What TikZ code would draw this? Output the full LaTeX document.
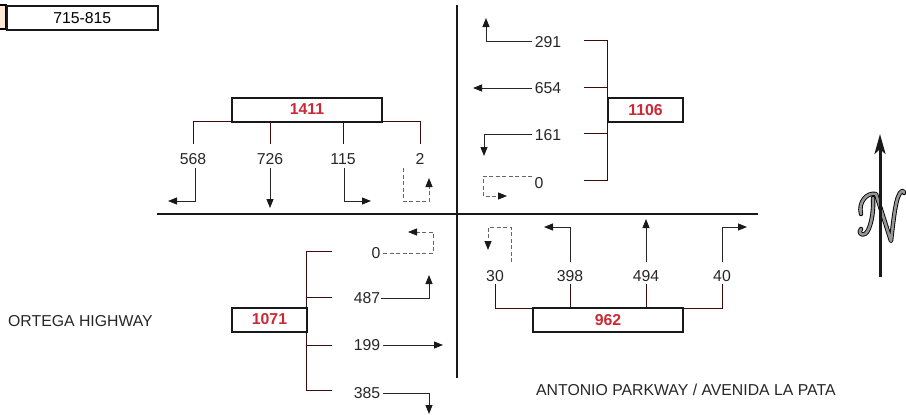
\documentclass[tikz,border=0pt]{standalone}
\usepackage{fontspec}
\setmainfont{Liberation Sans}
\usetikzlibrary{arrows.meta}
\definecolor{volred}{RGB}{204,41,54}
\definecolor{brk}{RGB}{60,12,12}
\definecolor{dsh}{RGB}{115,95,95}
\definecolor{peach}{RGB}{253,232,212}
\definecolor{ngray}{RGB}{150,150,150}
\tikzset{
  lbl/.style={inner sep=0pt, font=\fontsize{15.8}{18}\selectfont, text=black!85},
  volbox/.style={draw=black!90, line width=2pt, fill=white, minimum height=24pt, font=\fontsize{15.8}{18}\selectfont\bfseries, text=volred, inner sep=0pt},
  brkline/.style={draw=brk, line width=0.9pt},
  mv/.style={draw=black!85, line width=0.9pt, -{Triangle[length=9pt,width=7pt,color=black!90]}},
  dmv/.style={mv, draw=dsh, dash pattern=on 4pt off 2.5pt},
  road/.style={draw=black!90, line width=2.5pt},
  nstroke/.style={preaction={draw=black, line width=4.4pt, line cap=round, line join=round}, draw=ngray, line width=2.6pt, line cap=round, line join=round}
}
\begin{document}
\begin{tikzpicture}[x=1pt,y=-1pt]
\useasboundingbox (0,0) rectangle (906,415);
% top-left boxes
\draw[fill=peach, line width=1.6pt] (-10,5) rectangle (6,29);
\node[draw=black!90, line width=1.6pt, minimum width=151pt, minimum height=24pt, inner sep=0pt, anchor=north west, font=\fontsize{15.8}{18}\selectfont] (hour) at (6,5) {715-815};
% roads
\draw[road] (157,214) coordinate (wend) -- (758,214) coordinate (eend);
\draw[road] (457,5) coordinate (nend) -- (457,378) coordinate (send);

% ---------- NW approach (1411) ----------
\draw[brkline] (193,144) -- (193,121) -- (420,121) -- (420,144);
\draw[brkline] (270,121) -- (270,144);
\draw[brkline] (343,121) -- (343,144);
\node[volbox, minimum width=150pt] (v1411) at (307,109.5) {1411};
\node[lbl] (a568) at (193,159) {568};
\node[lbl] (a726) at (270,159) {726};
\node[lbl] (a115) at (343,159) {115};
\node[lbl] (a2) at (420,159) {2};
\draw[mv] (195,168) -- (195,201) -- (168,201);
\draw[mv] (270,168) -- (270,208);
\draw[mv] (344,168) -- (344,201) -- (371,201);
\draw[dmv] (403,168) -- (403,201) -- (429,201) -- (429,178);

% ---------- NE approach (1106) ----------
\draw[brkline] (584,40) -- (607,40) -- (607,180) -- (584,180);
\draw[brkline] (584,87) -- (607,87);
\draw[brkline] (584,133) -- (607,133);
\node[volbox, minimum width=75pt] (v1106) at (645.5,110) {1106};
\node[lbl] (b291) at (548,42) {291};
\node[lbl] (b654) at (548,88) {654};
\node[lbl] (b161) at (548,135) {161};
\node[lbl] (b0) at (539,183) {0};
\draw[mv] (532,41) -- (486,41) -- (486,18);
\draw[mv] (532,88) -- (473,88);
\draw[mv] (532,134) -- (484,134) -- (484,156);
\draw[dmv] (532,176) -- (483,176) -- (483,196) -- (507,196);

% ---------- SW approach (1071) ----------
\draw[brkline] (332,251) -- (306,251) -- (306,390) -- (332,390);
\draw[brkline] (306,297) -- (332,297);
\draw[brkline] (306,345) -- (332,345);
\node[volbox, minimum width=75pt] (v1071) at (269.5,319.5) {1071};
\node[lbl] (c0) at (376,253) {0};
\node[lbl] (c487) at (367,298) {487};
\node[lbl] (c199) at (367,345) {199};
\node[lbl] (c385) at (367,393) {385};
\draw[dmv] (383,253) -- (433,253) -- (433,232) -- (408,232);
\draw[mv] (381,298) -- (429,298) -- (429,275);
\draw[mv] (383,345) -- (443,345);
\draw[mv] (383,393) -- (429,393) -- (429,414);

% ---------- SE approach (962) ----------
\draw[brkline] (495,284) -- (495,308) -- (722,308) -- (722,284);
\draw[brkline] (570,284) -- (570,308);
\draw[brkline] (646,284) -- (646,308);
\node[volbox, minimum width=150pt] (v962) at (608,320) {962};
\node[lbl] (d30) at (495,276) {30};
\node[lbl] (d398) at (570,276) {398};
\node[lbl] (d494) at (646,276) {494};
\node[lbl] (d40) at (722,276) {40};
\draw[dmv] (511,262) -- (511,227) -- (488,227) -- (488,250);
\draw[mv] (570,262) -- (570,227) -- (544,227);
\draw[mv] (646,262) -- (646,219);
\draw[mv] (722,262) -- (722,227) -- (747,227);

% street names
\node[lbl, anchor=west] (ortega) at (8,321) {ORTEGA HIGHWAY};
\node[lbl, anchor=west] (antonio) at (536,390) {ANTONIO PARKWAY / AVENIDA LA PATA};

% north arrow with script N
\path[nstroke] (861,214) .. controls (858,202) and (867,192) .. (876,194) -- (891,241) .. controls (893,224) and (895,205) .. (898,197) .. controls (900,191) and (904,189) .. (904,193);
\path[nstroke] (873,198) .. controls (874,214) and (870,231) .. (865,234) .. controls (861,236) and (858,232) .. (861,229);
\draw[line width=3pt, black!90, -{Stealth[length=20pt,width=11pt,inset=5pt]}] (880,277) coordinate (ntail) -- (880,134) coordinate (nhead);
\end{tikzpicture}
\end{document}
